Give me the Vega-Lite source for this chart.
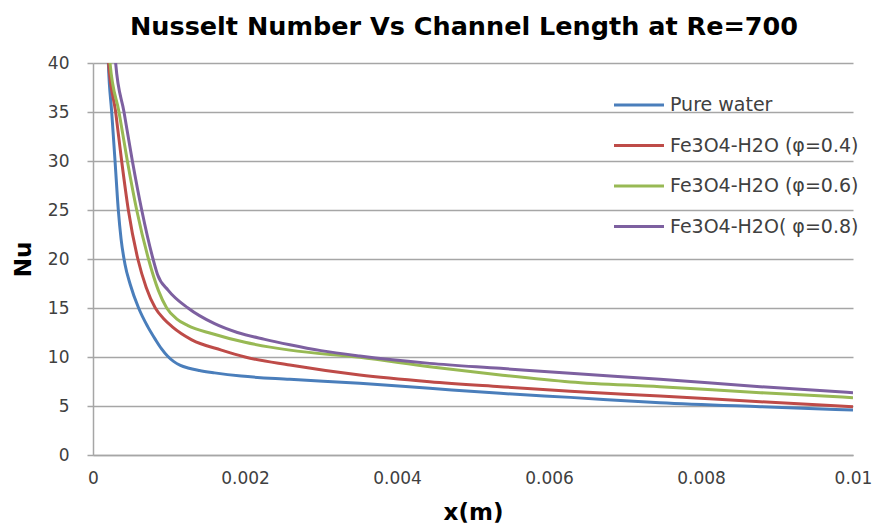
{
  "$schema": "https://vega.github.io/schema/vega-lite/v6.json",
  "autosize": {"type": "none"},
  "width": 760,
  "height": 392,
  "padding": {"left": 93, "top": 63, "right": 24, "bottom": 72},
  "background": "white",
  "title": {
    "text": "Nusselt Number Vs Channel Length at Re=700",
    "font": "DejaVu Sans",
    "fontSize": 25.5,
    "fontWeight": "bold",
    "color": "#000000",
    "anchor": "middle",
    "offset": 14,
    "dx": -9
  },
  "data": {
    "values": [
      {"series": "Pure water", "x": 0.00018, "nu": 46},
      {"series": "Pure water", "x": 0.000202, "nu": 40},
      {"series": "Pure water", "x": 0.000246, "nu": 35},
      {"series": "Pure water", "x": 0.00029, "nu": 30},
      {"series": "Pure water", "x": 0.000333, "nu": 25},
      {"series": "Pure water", "x": 0.00037, "nu": 22},
      {"series": "Pure water", "x": 0.00042, "nu": 19.5},
      {"series": "Pure water", "x": 0.00049, "nu": 17.4},
      {"series": "Pure water", "x": 0.0006, "nu": 15},
      {"series": "Pure water", "x": 0.00072, "nu": 13.1},
      {"series": "Pure water", "x": 0.00082, "nu": 11.8},
      {"series": "Pure water", "x": 0.0009, "nu": 10.85},
      {"series": "Pure water", "x": 0.00098, "nu": 10.1},
      {"series": "Pure water", "x": 0.00106, "nu": 9.55},
      {"series": "Pure water", "x": 0.00115, "nu": 9.15},
      {"series": "Pure water", "x": 0.00125, "nu": 8.88},
      {"series": "Pure water", "x": 0.0014, "nu": 8.62},
      {"series": "Pure water", "x": 0.0016, "nu": 8.38},
      {"series": "Pure water", "x": 0.00195, "nu": 8.05},
      {"series": "Pure water", "x": 0.00259, "nu": 7.72},
      {"series": "Pure water", "x": 0.00351, "nu": 7.31},
      {"series": "Pure water", "x": 0.00443, "nu": 6.8},
      {"series": "Pure water", "x": 0.00536, "nu": 6.29},
      {"series": "Pure water", "x": 0.00628, "nu": 5.88},
      {"series": "Pure water", "x": 0.00746, "nu": 5.34},
      {"series": "Pure water", "x": 0.00878, "nu": 4.93},
      {"series": "Pure water", "x": 0.01, "nu": 4.59},

      {"series": "Fe3O4-H2O (φ=0.4)", "x": 0.00016, "nu": 47},
      {"series": "Fe3O4-H2O (φ=0.4)", "x": 0.000205, "nu": 40},
      {"series": "Fe3O4-H2O (φ=0.4)", "x": 0.000298, "nu": 35},
      {"series": "Fe3O4-H2O (φ=0.4)", "x": 0.000377, "nu": 30},
      {"series": "Fe3O4-H2O (φ=0.4)", "x": 0.000465, "nu": 25},
      {"series": "Fe3O4-H2O (φ=0.4)", "x": 0.00059, "nu": 20},
      {"series": "Fe3O4-H2O (φ=0.4)", "x": 0.0007, "nu": 17.1},
      {"series": "Fe3O4-H2O (φ=0.4)", "x": 0.00082, "nu": 15},
      {"series": "Fe3O4-H2O (φ=0.4)", "x": 0.00093, "nu": 13.9},
      {"series": "Fe3O4-H2O (φ=0.4)", "x": 0.00104, "nu": 13.1},
      {"series": "Fe3O4-H2O (φ=0.4)", "x": 0.0013, "nu": 11.75},
      {"series": "Fe3O4-H2O (φ=0.4)", "x": 0.00169, "nu": 10.7},
      {"series": "Fe3O4-H2O (φ=0.4)", "x": 0.002, "nu": 10},
      {"series": "Fe3O4-H2O (φ=0.4)", "x": 0.00259, "nu": 9.18},
      {"series": "Fe3O4-H2O (φ=0.4)", "x": 0.00351, "nu": 8.16},
      {"series": "Fe3O4-H2O (φ=0.4)", "x": 0.00443, "nu": 7.48},
      {"series": "Fe3O4-H2O (φ=0.4)", "x": 0.00536, "nu": 6.97},
      {"series": "Fe3O4-H2O (φ=0.4)", "x": 0.00628, "nu": 6.5},
      {"series": "Fe3O4-H2O (φ=0.4)", "x": 0.00746, "nu": 6.02},
      {"series": "Fe3O4-H2O (φ=0.4)", "x": 0.00878, "nu": 5.44},
      {"series": "Fe3O4-H2O (φ=0.4)", "x": 0.01, "nu": 4.93},

      {"series": "Fe3O4-H2O (φ=0.6)", "x": 0.00017, "nu": 47},
      {"series": "Fe3O4-H2O (φ=0.6)", "x": 0.000224, "nu": 40},
      {"series": "Fe3O4-H2O (φ=0.6)", "x": 0.000342, "nu": 35},
      {"series": "Fe3O4-H2O (φ=0.6)", "x": 0.000452, "nu": 30},
      {"series": "Fe3O4-H2O (φ=0.6)", "x": 0.000575, "nu": 25},
      {"series": "Fe3O4-H2O (φ=0.6)", "x": 0.00073, "nu": 20},
      {"series": "Fe3O4-H2O (φ=0.6)", "x": 0.00086, "nu": 16.8},
      {"series": "Fe3O4-H2O (φ=0.6)", "x": 0.00097, "nu": 15},
      {"series": "Fe3O4-H2O (φ=0.6)", "x": 0.0011, "nu": 13.9},
      {"series": "Fe3O4-H2O (φ=0.6)", "x": 0.00125, "nu": 13.2},
      {"series": "Fe3O4-H2O (φ=0.6)", "x": 0.00156, "nu": 12.4},
      {"series": "Fe3O4-H2O (φ=0.6)", "x": 0.002, "nu": 11.5},
      {"series": "Fe3O4-H2O (φ=0.6)", "x": 0.00259, "nu": 10.7},
      {"series": "Fe3O4-H2O (φ=0.6)", "x": 0.00351, "nu": 9.97},
      {"series": "Fe3O4-H2O (φ=0.6)", "x": 0.00443, "nu": 9.01},
      {"series": "Fe3O4-H2O (φ=0.6)", "x": 0.00536, "nu": 8.16},
      {"series": "Fe3O4-H2O (φ=0.6)", "x": 0.00628, "nu": 7.45},
      {"series": "Fe3O4-H2O (φ=0.6)", "x": 0.00746, "nu": 6.97},
      {"series": "Fe3O4-H2O (φ=0.6)", "x": 0.00878, "nu": 6.36},
      {"series": "Fe3O4-H2O (φ=0.6)", "x": 0.01, "nu": 5.85},

      {"series": "Fe3O4-H2O( φ=0.8)", "x": 0.00024, "nu": 47},
      {"series": "Fe3O4-H2O( φ=0.8)", "x": 0.000298, "nu": 40},
      {"series": "Fe3O4-H2O( φ=0.8)", "x": 0.000408, "nu": 35},
      {"series": "Fe3O4-H2O( φ=0.8)", "x": 0.000518, "nu": 30},
      {"series": "Fe3O4-H2O( φ=0.8)", "x": 0.000641, "nu": 25},
      {"series": "Fe3O4-H2O( φ=0.8)", "x": 0.00079, "nu": 20},
      {"series": "Fe3O4-H2O( φ=0.8)", "x": 0.00085, "nu": 18.4},
      {"series": "Fe3O4-H2O( φ=0.8)", "x": 0.00099, "nu": 16.8},
      {"series": "Fe3O4-H2O( φ=0.8)", "x": 0.00125, "nu": 15},
      {"series": "Fe3O4-H2O( φ=0.8)", "x": 0.0016, "nu": 13.4},
      {"series": "Fe3O4-H2O( φ=0.8)", "x": 0.0019, "nu": 12.5},
      {"series": "Fe3O4-H2O( φ=0.8)", "x": 0.00226, "nu": 11.8},
      {"series": "Fe3O4-H2O( φ=0.8)", "x": 0.00259, "nu": 11.25},
      {"series": "Fe3O4-H2O( φ=0.8)", "x": 0.003, "nu": 10.65},
      {"series": "Fe3O4-H2O( φ=0.8)", "x": 0.00351, "nu": 10.1},
      {"series": "Fe3O4-H2O( φ=0.8)", "x": 0.00443, "nu": 9.35},
      {"series": "Fe3O4-H2O( φ=0.8)", "x": 0.00536, "nu": 8.84},
      {"series": "Fe3O4-H2O( φ=0.8)", "x": 0.00628, "nu": 8.33},
      {"series": "Fe3O4-H2O( φ=0.8)", "x": 0.00746, "nu": 7.72},
      {"series": "Fe3O4-H2O( φ=0.8)", "x": 0.00878, "nu": 6.97},
      {"series": "Fe3O4-H2O( φ=0.8)", "x": 0.01, "nu": 6.36}
    ]
  },
  "mark": {"type": "line", "interpolate": "monotone", "clip": true, "strokeWidth": 3},
  "encoding": {
    "x": {
      "field": "x",
      "type": "quantitative",
      "scale": {"domain": [0, 0.01], "nice": false, "zero": true},
      "axis": {
        "title": "x(m)",
        "values": [0, 0.002, 0.004, 0.006, 0.008, 0.01],
        "format": ".3~f",
        "grid": false,
        "ticks": false,
        "domainColor": "#a6a6a6",
        "domainWidth": 1.5,
        "labelFont": "DejaVu Sans",
        "labelFontSize": 17,
        "labelColor": "#404040",
        "labelPadding": 15,
        "labelFlush": false,
        "titleFont": "DejaVu Sans",
        "titleFontSize": 23,
        "titleFontWeight": "bold",
        "titleColor": "#000000",
        "titlePadding": 15
      }
    },
    "y": {
      "field": "nu",
      "type": "quantitative",
      "scale": {"domain": [0, 40], "nice": false},
      "axis": {
        "title": "Nu",
        "values": [0, 5, 10, 15, 20, 25, 30, 35, 40],
        "grid": true,
        "gridColor": "#a6a6a6",
        "gridWidth": 1.5,
        "ticks": true,
        "tickSize": 6,
        "tickColor": "#a6a6a6",
        "tickWidth": 1.5,
        "domainColor": "#a6a6a6",
        "domainWidth": 1.5,
        "labelFont": "DejaVu Sans",
        "labelFontSize": 17,
        "labelColor": "#404040",
        "labelPadding": 18,
        "labelFlush": false,
        "titleFont": "DejaVu Sans",
        "titleFontSize": 23,
        "titleFontWeight": "bold",
        "titleColor": "#000000",
        "titlePadding": 12
      }
    },
    "color": {
      "field": "series",
      "type": "nominal",
      "scale": {
        "domain": ["Pure water", "Fe3O4-H2O (φ=0.4)", "Fe3O4-H2O (φ=0.6)", "Fe3O4-H2O( φ=0.8)"],
        "range": ["#4a7ebb", "#be4b48", "#98b954", "#7d60a0"]
      },
      "legend": {
        "title": null,
        "orient": "none",
        "legendX": 532,
        "legendY": 28,
        "padding": 0,
        "symbolType": "M-2,0H2",
        "symbolSize": 625,
        "symbolStrokeWidth": 3,
        "labelFont": "DejaVu Sans",
        "labelFontSize": 19,
        "labelColor": "#404040",
        "labelOffset": 17,
        "labelLimit": 400,
        "rowPadding": 16.5
      }
    }
  },
  "config": {
    "view": {"stroke": null}
  }
}
